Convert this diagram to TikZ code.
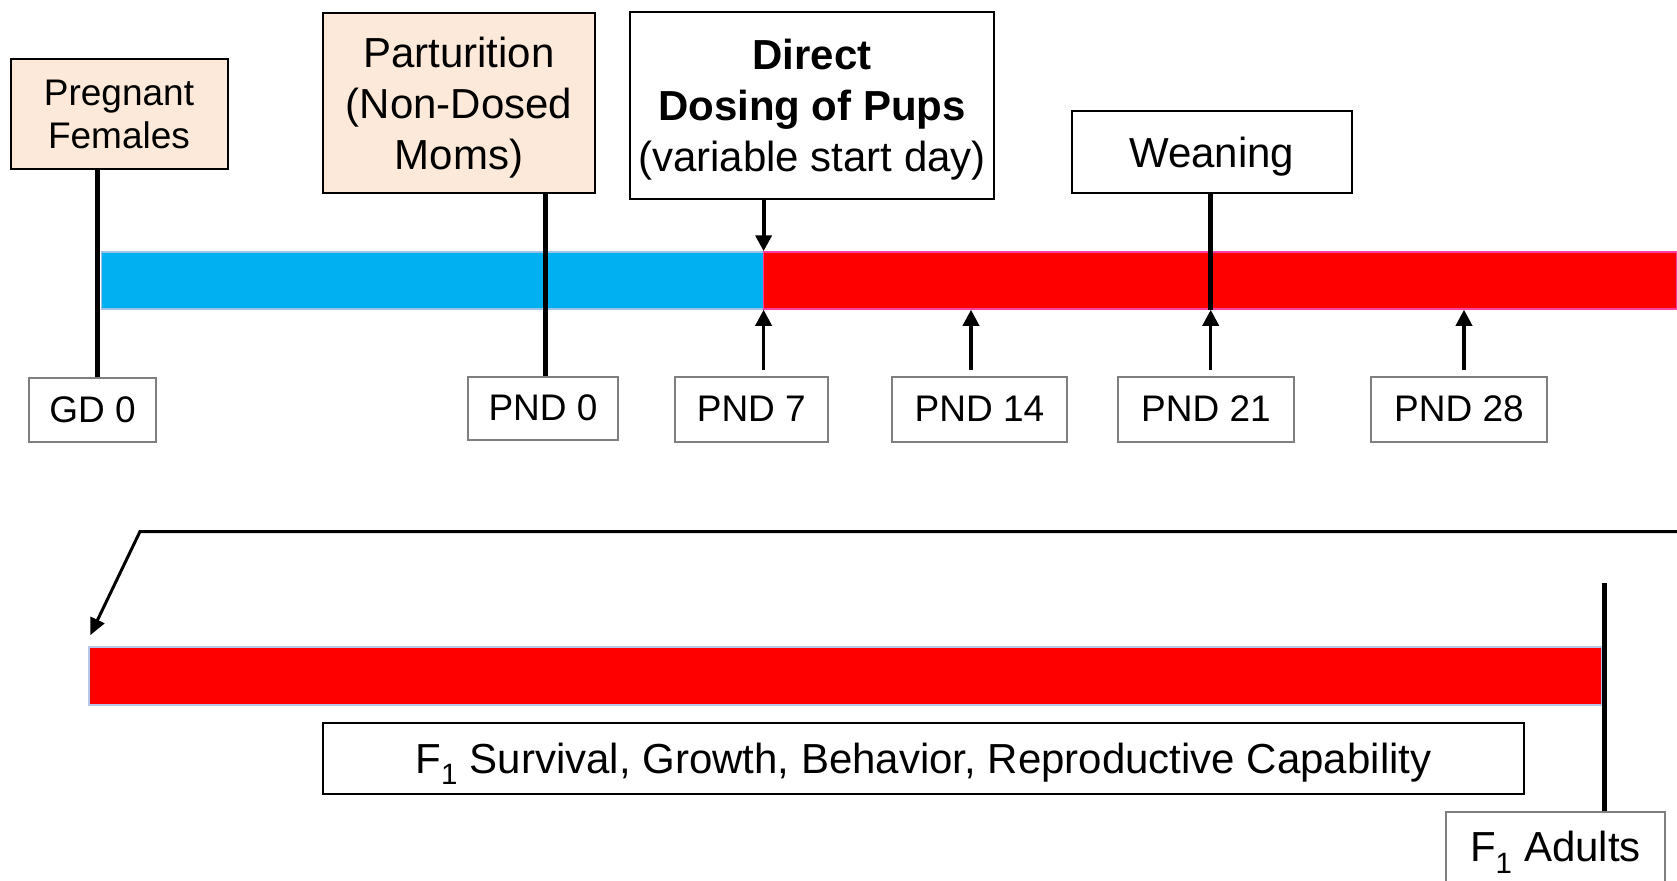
\documentclass[tikz,border=0pt]{standalone}
\usepackage{fontspec}
\setmainfont{Liberation Sans}
\usetikzlibrary{arrows.meta,positioning}
\definecolor{peach}{HTML}{FDE9D9}
\definecolor{barblue}{HTML}{00B0F0}
\definecolor{barred}{HTML}{FF0000}
\definecolor{edgeblue}{HTML}{9DC3E6}
\definecolor{edgepink}{HTML}{FF3EA5}
\definecolor{edgegray}{HTML}{B4C7E7}
\definecolor{boxgray}{HTML}{7F7F7F}
\newcommand{\bigtext}{\fontsize{42}{51}\selectfont}
\newcommand{\smalltext}{\fontsize{37}{43}\selectfont}

\begin{document}
\begin{tikzpicture}[x=1pt,y=-1pt,
    event/.style={draw=black,line width=2pt,inner sep=0pt,align=center,font=\bigtext,text depth=0pt},
    daybox/.style={draw=boxgray,line width=2pt,inner sep=0pt,font=\smalltext},
    bar/.style={inner sep=0pt,line width=1.5pt,minimum height=57pt},
    tick/.style={line width=5pt},
    pointer/.style={line width=3.5pt,-{Triangle[width=16pt,length=16pt]}}]
  \useasboundingbox (0,0) rectangle (1677,880);
  % bars
  \node[bar,fill=barblue,draw=edgeblue,minimum width=662pt] (prebar) at (432.6,280.5) {};
  \node[bar,fill=barred,draw=edgepink,minimum width=913.4pt] (dosebar) at (1220.3,280.5) {};
  \node[bar,fill=barred,draw=edgegray,minimum width=1512.7pt,minimum height=58pt] (adultbar) at (845.3,676) {};
  % events above the bar
  \node[event,fill=peach,font=\smalltext,text depth=,minimum width=217pt,minimum height=110pt] (pregnant) at (119,114) {Pregnant\\Females};
  \node[event,fill=peach,minimum width=272pt,minimum height=179pt] (parturition) at (459,103) {Parturition\\(Non-Dosed\\Moms)};
  \node[event,minimum width=364pt,minimum height=187pt] (dosing) at (812,105.5) {\textbf{Direct}\\\textbf{Dosing of Pups}\\(variable start day)};
  \node[event,minimum width=280pt,minimum height=81pt] (weaning) at (1211.7,152) {Weaning};
  % days below the bar
  \node[daybox,minimum width=127pt,minimum height=64pt] (gd0) at (92.5,409.5) {GD 0};
  \node[daybox,minimum width=150pt,minimum height=63pt] (pnd0) at (543,408) {PND 0};
  \node[daybox,minimum width=153pt,minimum height=65pt] (pnd7) at (751.3,409) {PND 7};
  \node[daybox,minimum width=175pt,minimum height=65pt] (pnd14) at (979.5,409) {PND 14};
  \node[daybox,minimum width=176pt,minimum height=65pt] (pnd21) at (1206,409) {PND 21};
  \node[daybox,minimum width=176pt,minimum height=65pt] (pnd28) at (1459,409) {PND 28};
  % lower part
  \node[event,minimum width=1201pt,minimum height=71pt] (effects) at (923.5,758) {F\textsubscript{1} Survival, Growth, Behavior, Reproductive Capability};
  \node[daybox,font=\bigtext,minimum width=219pt,minimum height=80pt] (adults) at (1555.5,852) {F\textsubscript{1} Adults};
  % connectors
  \coordinate (gdx) at (97.3,0);
  \coordinate (partx) at (545.5,0);
  \coordinate (dosex) at (763.6,0);
  \coordinate (weanx) at (1210.7,0);
  \draw[tick] (gdx |- pregnant.south) -- (gdx |- gd0.north);
  \draw[tick] (partx |- parturition.south) -- (partx |- pnd0.north);
  \draw[pointer,line width=4pt] (dosex |- dosing.south) -- (dosex |- prebar.north);
  \draw[tick] (weanx |- weaning.south) -- (weanx |- dosebar.south);
  \foreach \day/\x in {7/763.6,14/971,21/1210.7,28/1464}
    \draw[pointer,shorten <=6pt] (\x,0 |- pnd\day.north) -- (\x,0 |- dosebar.south);
  \coordinate (lineend) at (1677,531.5);
  \coordinate (corner) at (140,531.5);
  \draw[line width=3pt,-{Triangle[width=15pt,length=17pt]}] (lineend) -- (corner) -- ([xshift=2pt,yshift=11pt]adultbar.north west);
  \coordinate (adultstop) at (1604,583);
  \draw[tick] (adultstop) -- (adultstop |- adults.north);
\end{tikzpicture}
\end{document}
